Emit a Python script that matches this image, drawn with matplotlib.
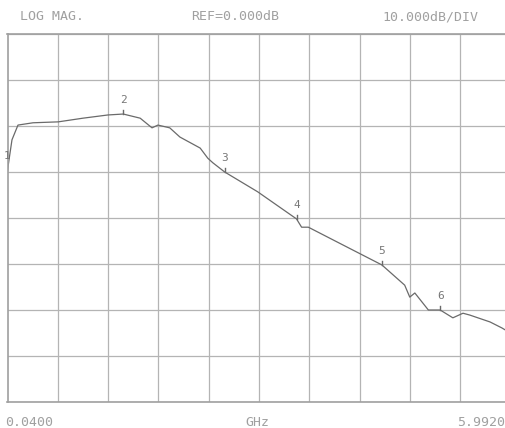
import numpy as np
import matplotlib.pyplot as plt

# trace (GHz, dB)
freq = [0.04, 0.093, 0.164, 0.342, 0.64, 0.933, 1.229, 1.41, 1.61, 1.75, 1.82, 1.96,
        2.08, 2.32, 2.41, 2.47, 2.61, 3.00, 3.46, 3.52, 3.60, 4.13, 4.47, 4.74, 4.80,
        4.86, 5.02, 5.16, 5.31, 5.43, 5.51, 5.75, 5.89, 5.992]
mag = [0.4, 7.0, 10.2, 10.7, 10.9, 11.7, 12.4, 12.6, 11.7, 9.6, 10.2, 9.6,
       7.6, 5.2, 3.0, 2.0, 0.0, -4.3, -10.2, -12.0, -12.0, -17.0, -20.2, -24.6, -27.2,
       -26.3, -30.0, -30.0, -31.7, -30.7, -31.1, -32.6, -33.9, -35.0]

marker_f = [0.04, 1.41, 2.61, 3.46, 4.47, 5.16]
marker_lbl = ['1', '2', '3', '4', '5', '6']

f_start, f_stop = 0.04, 5.992
ref_db, per_div = 0.0, 10.0

fig = plt.figure(figsize=(5.05, 4.28), dpi=100)
W, H = 505, 428
ax = fig.add_axes([7.5 / W, (H - 402) / H, 503 / W, 368 / H])

gcol = '#b4b4b4'
ax.set_xlim(f_start, f_stop)
ax.set_ylim(ref_db - 5 * per_div, ref_db + 3 * per_div)
ax.set_xticks(np.linspace(f_start, f_stop, 11))
ax.set_yticks(np.arange(-50, 31, 10))
ax.grid(True, color=gcol, lw=0.9)
ax.tick_params(length=0, labelbottom=False, labelleft=False)
for s in ax.spines.values():
    s.set_color('#a0a0a0')
    s.set_linewidth(1.2)

ax.plot(freq, mag, color='#6a6a6a', lw=0.9)

mag_at = np.interp(marker_f, freq, mag)
for f, m, t in zip(marker_f, mag_at, marker_lbl):
    ax.plot([f, f], [m, m + 0.9], color='#6a6a6a', lw=1.0)
    ax.text(f, m + 2.0, t, color='#777777', fontsize=8, ha='center', va='bottom',
            family='DejaVu Sans Mono')

tc = '#a0a0a0'
kw = dict(color=tc, fontsize=9.5, family='DejaVu Sans Mono', va='center')
fig.text(20 / W, 1 - 17 / H, 'LOG MAG.', **kw)
fig.text(235 / W, 1 - 17 / H, 'REF=0.000dB', ha='center', **kw)
fig.text(382 / W, 1 - 17 / H, '10.000dB/DIV', **kw)
fig.text(5 / W, 1 - 423 / H, '0.0400', **kw)
fig.text(257 / W, 1 - 423 / H, 'GHz', ha='center', **kw)
fig.text(505 / W, 1 - 423 / H, '5.9920', ha='right', **kw)

fig.savefig('out.png', dpi=100)
